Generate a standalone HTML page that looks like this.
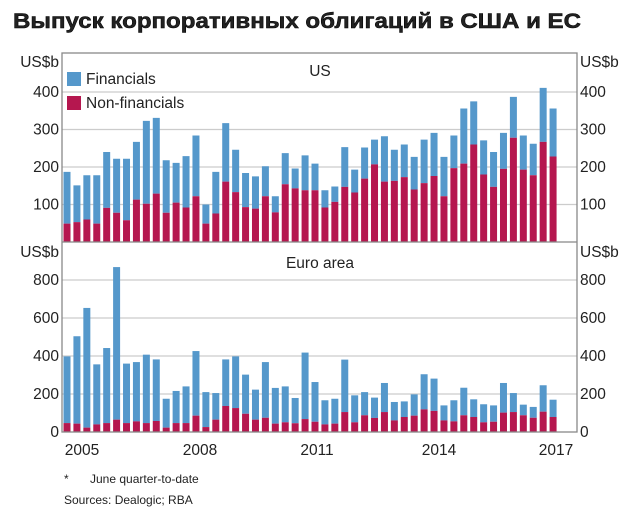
<!DOCTYPE html>
<html><head><meta charset="utf-8"><style>
body{margin:0;background:#fff;width:640px;height:516px;overflow:hidden}
svg{display:block}
text{font-family:"Liberation Sans",Arial,sans-serif;fill:#222}
</style></head><body>
<svg id="s" width="640" height="516" xmlns="http://www.w3.org/2000/svg">
<text x="13" y="28" font-size="21" font-weight="bold" fill="#000" textLength="568" lengthAdjust="spacingAndGlyphs" stroke="#000" stroke-width="0.5">Выпуск корпоративных облигаций в США и ЕС</text>
<g id="grid"></g>
<g id="bars"></g>
<rect x="62" y="53" width="515" height="379" fill="none" stroke="#888" stroke-width="1.3"/>
<line x1="62" y1="242" x2="577" y2="242" stroke="#888" stroke-width="1.3"/>
<text x="320" y="76" text-anchor="middle" font-size="15.5">US</text>
<text x="320" y="268" text-anchor="middle" font-size="15.5">Euro area</text>
<rect x="67" y="72" width="14" height="14" fill="#5598cb"/>
<text x="86" y="84" font-size="15.5">Financials</text>
<rect x="67" y="96" width="14" height="14" fill="#b5174f"/>
<text x="86" y="108" font-size="15.5">Non-financials</text>
<g font-size="15.5">
<text x="59" y="67" text-anchor="end">US$b</text>
<text x="580" y="67">US$b</text>
<text x="59" y="257" text-anchor="end">US$b</text>
<text x="580" y="257">US$b</text>
</g>
<g id="ticks" font-size="15.5"></g>
<g font-size="15.5">
<text x="82" y="455" text-anchor="middle">2005</text>
<text x="200" y="455" text-anchor="middle">2008</text>
<text x="317" y="455" text-anchor="middle">2011</text>
<text x="439" y="455" text-anchor="middle">2014</text>
<text x="556" y="455" text-anchor="middle">2017</text>
</g>
<text x="64" y="483" font-size="12">*</text>
<text x="90" y="483" font-size="12">June quarter-to-date</text>
<text x="64" y="504" font-size="12">Sources: Dealogic; RBA</text>
</svg>
<script>
var usT=[187,151,178,178,240,222,222,267,323,331,218,211,229,284,100,187,317,246,184,175,202,122,237,196,231,209,138,148,253,193,252,273,282,246,260,227,273,291,227,284,356,375,271,240,291,387,284,262,411,356];
var usN=[49,53,60,49,91,78,58,113,102,129,78,105,92,122,49,76,161,133,93,89,122,79,154,143,138,138,92,107,147,132,169,207,161,163,173,140,157,176,122,197,209,260,180,147,195,278,193,178,267,228];
var euT=[398,504,653,356,442,868,360,368,407,382,175,216,240,426,210,205,382,398,302,223,368,232,240,179,418,263,167,175,381,193,210,181,258,158,161,198,304,281,140,167,233,172,146,140,258,205,144,132,246,170];
var euN=[47,44,23,40,47,65,47,56,47,58,23,47,47,86,26,65,137,126,96,65,75,44,51,46,68,54,40,44,105,51,88,74,105,61,79,86,119,111,61,56,88,79,51,54,102,105,88,75,107,79];
var ns="http://www.w3.org/2000/svg",g=document.getElementById('grid'),b=document.getElementById('bars'),t=document.getElementById('ticks');
function el(p,n,a){var e=document.createElementNS(ns,n);for(var k in a)e.setAttribute(k,a[k]);p.appendChild(e);return e;}
function txt(x,y,s,anc){var e=el(t,'text',{x:x,y:y,'text-anchor':anc});e.textContent=s;}
[100,200,300,400].forEach(function(v){var y=242-v*0.375;el(g,'line',{x1:62,x2:577,y1:y,y2:y,stroke:'#ccc','stroke-width':1.2});txt(59,y+5,v,'end');txt(580,y+5,v,'start');});
[0,200,400,600,800].forEach(function(v){var y=432-v*0.19;if(v>0)el(g,'line',{x1:62,x2:577,y1:y,y2:y,stroke:'#ccc','stroke-width':1.2});txt(59,y+5,v,'end');txt(580,y+5,v,'start');});
for(var i=0;i<50;i++){var x=63.5+i*9.92,w=7;
el(b,'rect',{x:x,y:242-usT[i]*0.375,width:w,height:(usT[i]-usN[i])*0.375,fill:'#5598cb'});
el(b,'rect',{x:x,y:242-usN[i]*0.375,width:w,height:usN[i]*0.375,fill:'#b5174f'});
el(b,'rect',{x:x,y:432-euT[i]*0.19,width:w,height:(euT[i]-euN[i])*0.19,fill:'#5598cb'});
el(b,'rect',{x:x,y:432-euN[i]*0.19,width:w,height:euN[i]*0.19,fill:'#b5174f'});}
</script>
</body></html>
